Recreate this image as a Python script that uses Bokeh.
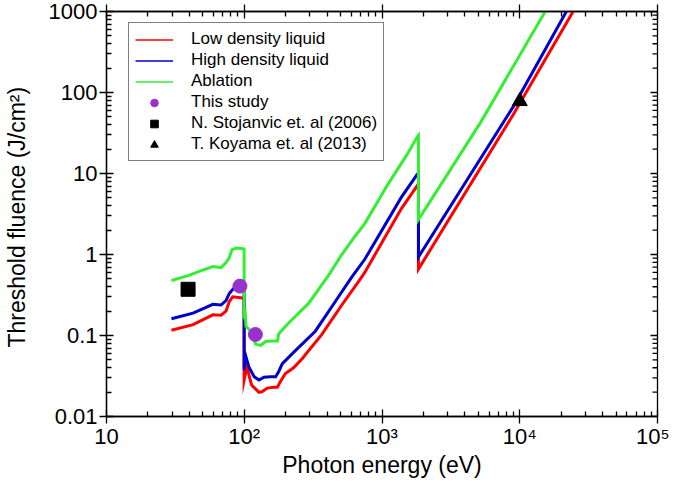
import math
from bokeh.plotting import figure
from bokeh.models import Legend, LegendItem, FixedTicker, LogAxis, CustomLabelingPolicy
from bokeh.embed import file_html
from bokeh.resources import INLINE

# ---------------- data ----------------
ldl_energy = [29.6, 42.5, 59.2, 67.8, 73.7, 77.8, 82.4, 97.0, 99.8, 99.8, 104.4, 113, 128, 135, 147,
              164, 174, 183, 199, 228, 263, 366, 511, 671, 750, 1380, 1798, 1839, 1839, 9000, 24400]
ldl_fluence = [0.116, 0.136, 0.18, 0.178, 0.20, 0.261, 0.30, 0.29, 0.28, 0.0282, 0.041, 0.0245, 0.0199,
               0.0203, 0.0224, 0.0229, 0.0229, 0.027, 0.034, 0.040, 0.0516, 0.103, 0.238, 0.455, 0.601,
               3.66, 7.03, 7.4, 0.66, 54, 1000]

hdl_energy = [29.6, 42.5, 59.2, 67.8, 73.7, 77.8, 82.4, 88, 95, 99.8, 99.8, 101.5, 108, 118, 128, 139,
              155, 169, 178, 189, 235, 328, 457, 603, 750, 1380, 1798, 1839, 1839, 9020, 21800]
hdl_fluence = [0.161, 0.189, 0.243, 0.238, 0.27, 0.33, 0.37, 0.415, 0.41, 0.379, 0.0373, 0.0593, 0.041,
               0.031, 0.0282, 0.0305, 0.031, 0.031, 0.036, 0.045, 0.065, 0.113, 0.261, 0.524, 0.873,
               5.07, 9.7, 10.1, 0.93, 67.9, 1000]

abl_energy = [29.6, 39.1, 48.7, 59.2, 67.8, 73.7, 77.8, 81.3, 87.1, 97.3, 99.8, 99.8, 101.5, 103, 111.6,
              121, 131.8, 143, 160, 174, 178, 210, 293, 408, 511, 635, 750, 1103, 1538, 1798, 1839,
              1839, 5200, 15300]
abl_fluence = [0.477, 0.548, 0.631, 0.71, 0.69, 0.794, 0.912, 1.14, 1.2, 1.18, 1.17, 0.18, 0.19, 0.13,
               0.113, 0.078, 0.0753, 0.0843, 0.0855, 0.0855, 0.105, 0.143, 0.249, 0.548, 1.0, 1.67,
               2.41, 7.35, 17.7, 28.2, 29.5, 2.7, 42.8, 1000]

study_energy = [93, 120.5]
study_fluence = [0.407, 0.103]
stoj_energy = [39.1]
stoj_fluence = [0.372]
koy_energy = [10000]
koy_fluence = [78]

x_lo, x_hi = 10, 100000
y_lo, y_hi = 0.01, 1000
x_ticks = [10, 100, 1000, 10000, 100000]
x_tick_labels = ["10", "10²", "10³", "10⁴", "10⁵"]
y_ticks = [0.01, 0.1, 1, 10, 100, 1000]
y_tick_labels = ["0.01", "0.1", "1", "10", "100", "1000"]

series_names = ["Low density liquid", "High density liquid", "Ablation"]
series_colors = ["#ff0000", "#0000cc", "#33ee33"]
x_title = "Photon energy (eV)"
y_title = "Threshold  fluence (J/cm²)"

FONT = "Liberation Sans"

x_minor = [k * 10 ** d for d in range(1, 5) for k in range(2, 10)]
y_minor = [k * 10.0 ** d for d in range(-2, 3) for k in range(2, 10)]

p = figure(width=669, height=483, x_axis_type="log", y_axis_type="log",
           x_range=(x_lo, x_hi), y_range=(y_lo, y_hi),
           output_backend="svg", toolbar_location=None,
           min_border_left=102, min_border_right=12, min_border_top=8, min_border_bottom=67)

p.xgrid.visible = False
p.ygrid.visible = False
p.outline_line_color = "black"
p.outline_line_width = 1.3
p.background_fill_color = "white"
p.border_fill_color = "white"

x_axis = p.below[0]
y_axis = p.left[0]

hide_all = CustomLabelingPolicy(code="for (const i of indices) { indices.unset(i) } return indices")


def style_axis(ax, ticks, minor, labels, show_labels, standoff=0):
    ax.ticker = FixedTicker(ticks=ticks, minor_ticks=minor)
    ax.major_tick_in = 7
    ax.major_tick_out = 7
    ax.minor_tick_in = 5
    ax.minor_tick_out = 0
    ax.axis_line_width = 1.3
    ax.major_tick_line_width = 1.3
    ax.minor_tick_line_width = 1.3
    ax.axis_line_color = "black"
    ax.major_tick_line_color = "black"
    ax.minor_tick_line_color = "black"
    ax.major_label_overrides = {t: s for t, s in zip(ticks, labels)}
    if show_labels:
        ax.major_label_text_font = FONT
        ax.major_label_text_font_size = "22px"
        ax.major_label_text_color = "black"
        ax.major_label_standoff = standoff
    else:
        ax.major_label_policy = hide_all
        ax.major_label_text_font_size = "1px"
        ax.major_label_standoff = 0


style_axis(x_axis, x_ticks, x_minor, x_tick_labels, True, 0)
style_axis(y_axis, y_ticks, y_minor, y_tick_labels, True, 2)

top = LogAxis()
style_axis(top, x_ticks, x_minor, x_tick_labels, False)
p.add_layout(top, "above")

# ticks of the right-hand frame edge (drawn inside the frame)
p.scatter([x_hi] * len(y_ticks), y_ticks, marker="dash", size=14, line_color="black",
          line_width=1.3)
p.scatter([x_hi] * len(y_minor), y_minor, marker="dash", size=10, line_color="black",
          line_width=1.3)

x_axis.axis_label = x_title
y_axis.axis_label = y_title
for ax in (x_axis, y_axis):
    ax.axis_label_text_font = FONT
    ax.axis_label_text_font_style = "normal"
    ax.axis_label_text_color = "black"
x_axis.axis_label_text_font_size = "23px"
y_axis.axis_label_text_font_size = "23px"
x_axis.axis_label_standoff = 0
y_axis.axis_label_standoff = 16

# curves
for ex, fy, c in zip([ldl_energy, hdl_energy, abl_energy],
                     [ldl_fluence, hdl_fluence, abl_fluence], series_colors):
    p.line(ex, fy, line_color=c, line_width=3, line_join="miter")

# points
r_study = p.scatter(study_energy, study_fluence, marker="circle", size=14,
                    fill_color="#9932cc", line_color="#9932cc")
r_stoj = p.scatter(stoj_energy, stoj_fluence, marker="square", size=14,
                   fill_color="black", line_color="black")
r_koy = p.scatter(koy_energy, koy_fluence, marker="triangle", size=15,
                  fill_color="black", line_color="black")

# thin line samples for the legend (single point: draws nothing in the plot)
dummies = [p.line([1.0], [1.0], line_color=c, line_width=1.5) for c in series_colors]

items = [LegendItem(label=n, renderers=[d]) for n, d in zip(series_names, dummies)]
items += [LegendItem(label="This study", renderers=[r_study]),
          LegendItem(label="N. Stojanvic et. al (2006)", renderers=[r_stoj]),
          LegendItem(label="T. Koyama et. al (2013)", renderers=[r_koy])]

legend = Legend(items=items, location=(22, 255))
legend.label_text_font = FONT
legend.label_text_font_size = "17px"
legend.label_text_color = "black"
legend.glyph_width = 38
legend.glyph_height = 19
legend.label_height = 19
legend.spacing = 1
legend.padding = 6
legend.margin = 0
legend.label_standoff = 18
legend.border_line_color = "black"
legend.border_line_width = 1.3
legend.background_fill_color = "white"
legend.background_fill_alpha = 1.0
p.add_layout(legend, "center")

open("out.html", "w").write(file_html(p, INLINE))
